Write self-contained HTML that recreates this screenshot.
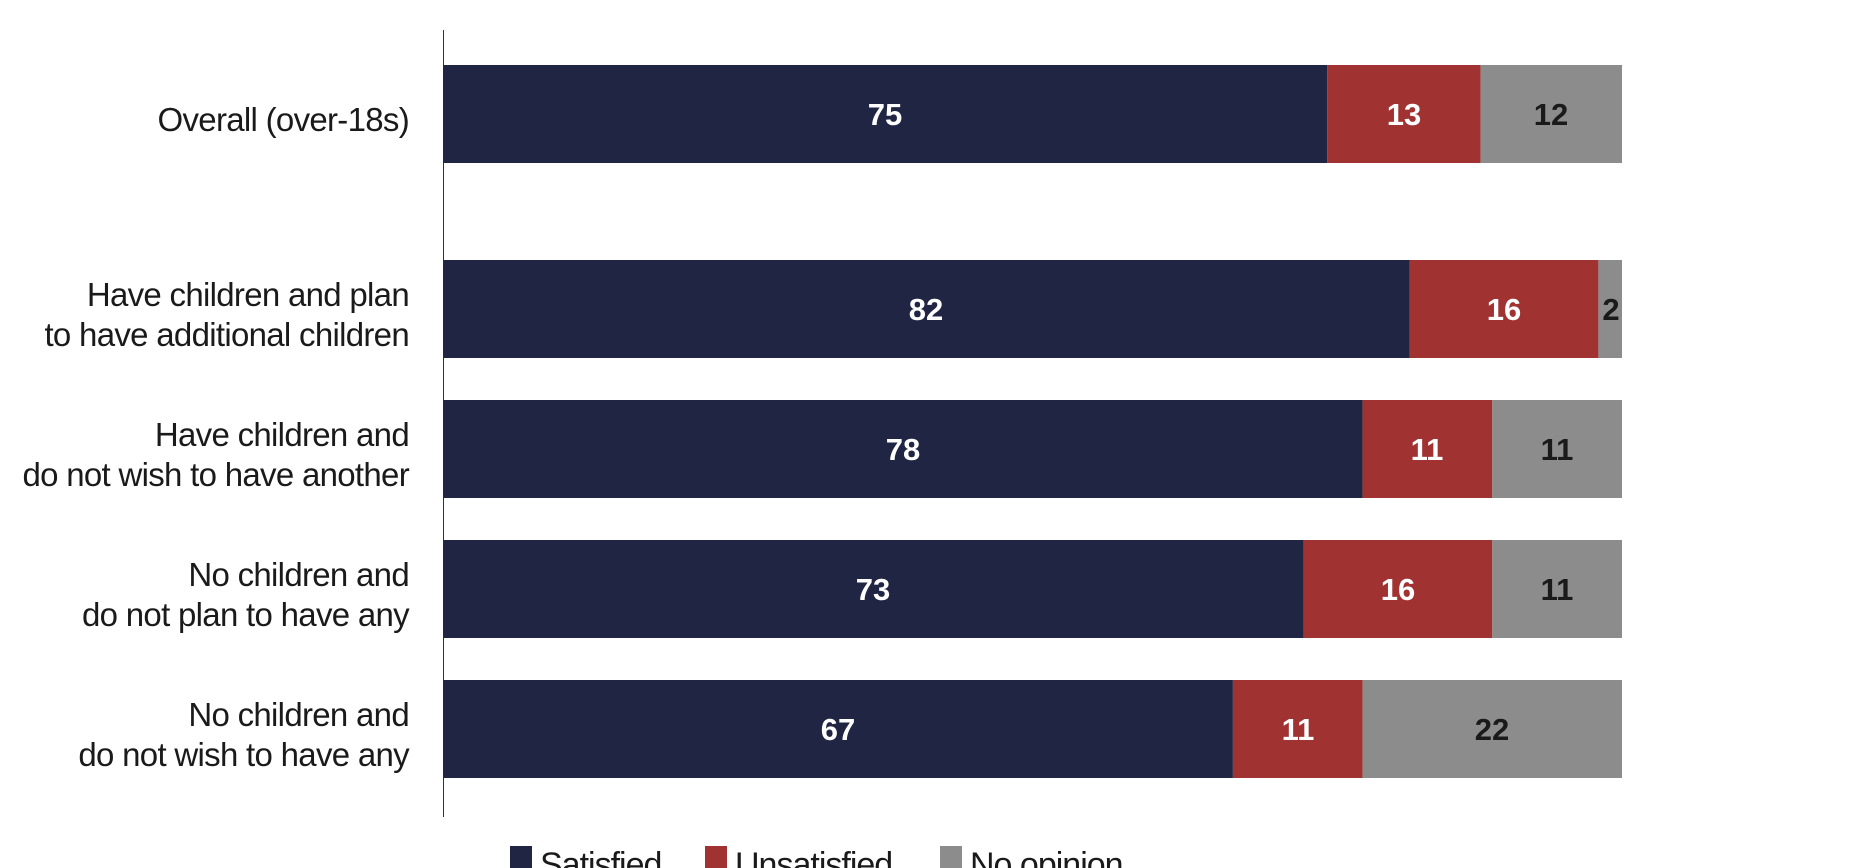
<!DOCTYPE html>
<html><head><meta charset="utf-8"><style>
html,body{margin:0;padding:0;background:#fff;}
svg{display:block;}
.lab{font-family:"Liberation Sans",sans-serif;font-size:33px;fill:#1a1a1a;text-anchor:end;letter-spacing:-0.7px;}
.v{font-family:"Liberation Sans",sans-serif;font-size:31px;font-weight:bold;text-anchor:middle;}
.w{fill:#fff}.k{fill:#1a1a1a}
.lg{font-family:"Liberation Sans",sans-serif;font-size:34px;fill:#1a1a1a;letter-spacing:-1px;}
</style></head><body>
<svg width="1860" height="868" viewBox="0 0 1860 868">
<line x1="443.5" y1="30" x2="443.5" y2="817" stroke="#333" stroke-width="1"/>
<g>
<rect x="443" y="65" width="884.3" height="98" fill="#1f2543"/>
<rect x="1327.3" y="65" width="153.3" height="98" fill="#a13232"/>
<rect x="1480.6" y="65" width="141.4" height="98" fill="#8c8c8c"/>
<text class="v w" x="885" y="125">75</text><text class="v w" x="1404" y="125">13</text><text class="v k" x="1551" y="125">12</text>

<rect x="443" y="260" width="966.8" height="98" fill="#1f2543"/>
<rect x="1409.8" y="260" width="188.6" height="98" fill="#a13232"/>
<rect x="1598.4" y="260" width="23.6" height="98" fill="#8c8c8c"/>
<text class="v w" x="926" y="320">82</text><text class="v w" x="1504" y="320">16</text><text class="v k" x="1611" y="320">2</text>

<rect x="443" y="400" width="919.6" height="98" fill="#1f2543"/>
<rect x="1362.6" y="400" width="129.7" height="98" fill="#a13232"/>
<rect x="1492.3" y="400" width="129.7" height="98" fill="#8c8c8c"/>
<text class="v w" x="903" y="460">78</text><text class="v w" x="1427" y="460">11</text><text class="v k" x="1557" y="460">11</text>

<rect x="443" y="540" width="860.7" height="98" fill="#1f2543"/>
<rect x="1303.7" y="540" width="188.6" height="98" fill="#a13232"/>
<rect x="1492.3" y="540" width="129.7" height="98" fill="#8c8c8c"/>
<text class="v w" x="873" y="600">73</text><text class="v w" x="1398" y="600">16</text><text class="v k" x="1557" y="600">11</text>

<rect x="443" y="680" width="789.9" height="98" fill="#1f2543"/>
<rect x="1232.9" y="680" width="129.7" height="98" fill="#a13232"/>
<rect x="1362.6" y="680" width="259.4" height="98" fill="#8c8c8c"/>
<text class="v w" x="838" y="740">67</text><text class="v w" x="1298" y="740">11</text><text class="v k" x="1492" y="740">22</text>
</g>
<text class="lab" x="409" y="131">Overall (over-18s)</text>
<text class="lab" x="409" y="306">Have children and plan</text>
<text class="lab" x="409" y="346">to have additional children</text>
<text class="lab" x="409" y="446">Have children and</text>
<text class="lab" x="409" y="486">do not wish to have another</text>
<text class="lab" x="409" y="586">No children and</text>
<text class="lab" x="409" y="626">do not plan to have any</text>
<text class="lab" x="409" y="726">No children and</text>
<text class="lab" x="409" y="766">do not wish to have any</text>

<rect x="510" y="846" width="22" height="30" fill="#1f2543"/>
<text class="lg" x="540" y="876">Satisfied</text>
<rect x="705" y="846" width="22" height="30" fill="#a13232"/>
<text class="lg" x="735" y="876">Unsatisfied</text>
<rect x="940" y="846" width="22" height="30" fill="#8c8c8c"/>
<text class="lg" x="970" y="876">No opinion</text>
</svg>
</body></html>
